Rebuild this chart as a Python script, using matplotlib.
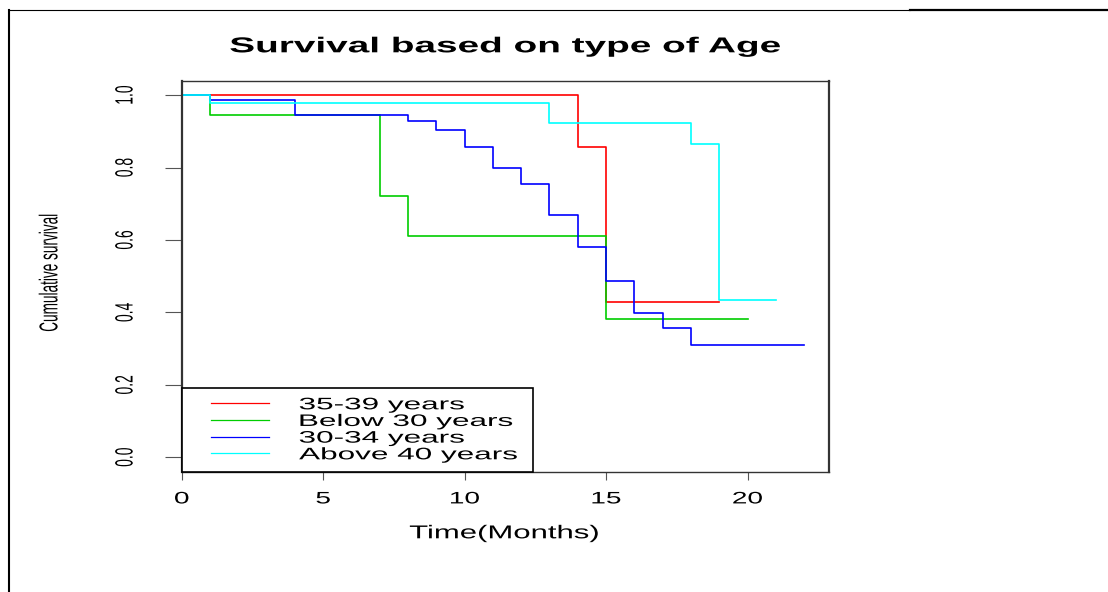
import matplotlib
matplotlib.use("Agg")
import matplotlib.pyplot as plt
import matplotlib.patheffects as pe
from matplotlib.lines import Line2D
from matplotlib.legend_handler import HandlerLine2D
from matplotlib.transforms import Affine2D

# Kaplan-Meier estimates per age group: event times (months) and survival after each step
red_time = [0, 14, 15, 19]
red_surv = [1.0, 0.857, 0.429, 0.429]
green_time = [0, 1, 7, 8, 15, 20]
green_surv = [1.0, 0.944, 0.722, 0.611, 0.382, 0.382]
blue_time = [0, 1, 4, 8, 9, 10, 11, 12, 13, 14, 15, 16, 17, 18, 22]
blue_surv = [1.0, 0.987, 0.945, 0.930, 0.903, 0.858, 0.799, 0.754, 0.669,
             0.580, 0.487, 0.398, 0.356, 0.309, 0.309]
cyan_time = [0, 1, 13, 18, 19, 21]
cyan_surv = [1.0, 0.977, 0.923, 0.866, 0.433, 0.433]

group_labels = ["35-39 years", "Below 30 years", "30-34 years", "Above 40 years"]
group_colors = ["#ff0000", "#00cd00", "#0000ff", "#00ffff"]

x_ticks = [0, 5, 10, 15, 20]
y_ticks = [0.0, 0.2, 0.4, 0.6, 0.8, 1.0]
y_tick_labels = ["0.0", "0.2", "0.4", "0.6", "0.8", "1.0"]


class Widen(pe.AbstractPathEffect):
    """Stretch the glyph outlines along the text's own x or y direction."""

    def __init__(self, sx=1.0, sy=1.0, from_left=False):
        super().__init__()
        self.sx, self.sy, self.from_left = sx, sy, from_left

    def draw_path(self, renderer, gc, tpath, affine, rgbFace=None):
        ext = tpath.get_extents()
        cx = ext.x0 if self.from_left else (ext.x0 + ext.x1) / 2
        cy = (ext.y0 + ext.y1) / 2
        stretch = Affine2D().translate(-cx, -cy).scale(self.sx, self.sy).translate(cx, cy)
        renderer.draw_path(gc, tpath, stretch + affine, rgbFace)


plt.rcParams['font.family'] = ['Liberation Sans', 'DejaVu Sans']

fig = plt.figure(figsize=(11.08, 5.92), dpi=100)
ax = fig.add_axes([0.164, 0.2032, 0.5842, 0.6605])

# survival curves
series = [(red_time, red_surv), (green_time, green_surv),
          (blue_time, blue_surv), (cyan_time, cyan_surv)]
for (t, s), lab, col in zip(series, group_labels, group_colors):
    ax.step(t, s, where='post', color=col, lw=1.2, label=lab)

ax.set_xlim(0, 22.88)
ax.set_ylim(-0.04, 1.04)

# axes frame
for side in ['left', 'right']:
    ax.spines[side].set_linewidth(1.6)
for side in ['top', 'bottom']:
    ax.spines[side].set_linewidth(1.0)
for sp in ax.spines.values():
    sp.set_color('#333333')

# ticks
ax.set_xticks(x_ticks)
ax.set_yticks(y_ticks, y_tick_labels)
ax.tick_params(axis='x', direction='out', length=5.8, width=0.8, color='#555555',
               pad=8.4, labelsize=12)
ax.tick_params(axis='y', direction='out', length=12.5, width=0.8, color='#555555',
               pad=23.5, labelsize=10)
for lab in ax.get_xticklabels():
    lab.set_path_effects([Widen(sx=1.68)])
for lab in ax.get_yticklabels():
    lab.set_rotation(90)
    lab.set_va('center')
    lab.set_path_effects([Widen(sy=1.8)])

# title and axis labels
ax.set_title("Survival based on type of Age", fontsize=15.5, fontweight='bold',
             y=1.0726, va='baseline', pad=0)
ax.title.set_path_effects([Widen(sx=1.8)])

ax.set_xlabel("Time(Months)", fontsize=13.4)
ax.xaxis.set_label_coords(0.498, -0.1703)
ax.xaxis.label.set_va('baseline')
ax.xaxis.label.set_path_effects([Widen(sx=1.67)])

ax.set_ylabel("Cumulative survival", fontsize=9.8)
ax.yaxis.set_label_coords(-0.205, 0.5095)
ax.yaxis.label.set_va('center')
ax.yaxis.label.set_path_effects([Widen(sy=1.9)])

# legend
leg = ax.legend(loc='lower left', bbox_to_anchor=(0, 0, 0.5427, 0.5), mode='expand',
                borderaxespad=0, fontsize=12, frameon=True, fancybox=False,
                framealpha=1, edgecolor='black', borderpad=0.565, labelspacing=0.1,
                handlelength=4.68, handletextpad=1.8,
                handler_map={Line2D: HandlerLine2D(xpad=1.17)})
leg.get_frame().set_linewidth(1.2)
for h in leg.get_lines():
    h.set_linewidth(0.9)
for t in leg.get_texts():
    t.set_path_effects([Widen(sx=1.89, from_left=True)])

# page border
fig.add_artist(Line2D([0.009, 0.8213], [0.9831, 0.9831], transform=fig.transFigure,
                      color='black', lw=0.8))
fig.add_artist(Line2D([0.8213, 1.0], [0.9831, 0.9831], transform=fig.transFigure,
                      color='black', lw=1.6))
fig.add_artist(Line2D([0.0081, 0.0081], [0, 0.9831], transform=fig.transFigure,
                      color='black', lw=1.5))

fig.savefig('out.png', dpi=100)
